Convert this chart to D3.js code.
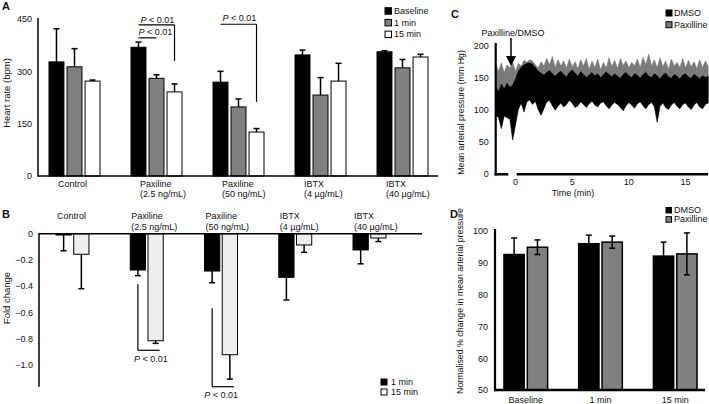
<!DOCTYPE html>
<html><head><meta charset="utf-8">
<script src="https://cdn.jsdelivr.net/npm/d3@7"></script>
<style>
body{margin:0;background:#fff}
svg{display:block}
text{font-family:"Liberation Sans",Arial,sans-serif;fill:#111}
</style>
</head><body>
<svg id="c" width="709" height="404"></svg>
<script>
// ---------- DATA ----------
// Panel A / B categories
const groupKeys   = ["Control","Paxiline 2.5","Paxiline 50","IBTX 4","IBTX 40"];
const groupLine1  = ["Control","Paxiline","Paxiline","IBTX","IBTX"];
const groupLine2  = ["","(2.5 ng/mL)","(50 ng/mL)","(4 \u00b5g/mL)","(40 \u00b5g/mL)"];

// Panel A: heart rate (bpm)
const seriesA      = ["Baseline","1 min","15 min"];
const hrBaseline   = [327, 369, 269, 347, 356];
const hr1min       = [313, 280, 198, 232, 310];
const hr15min      = [272, 241, 126, 272, 341];
const hrErrBaseline= [95, 15, 31, 14, 3];
const hrErr1min    = [52, 10, 23, 50, 24];
const hrErr15min   = [3, 23, 10, 51, 8];
const hrTicks      = [0, 150, 300, 450];

// Panel B: fold change
const seriesB       = ["1 min","15 min"];
const fold1min      = [-0.01, -0.277, -0.285, -0.333, -0.124];
const fold15min     = [-0.157, -0.817, -0.924, -0.086, -0.033];
const foldErr1min   = [0.12, 0.043, 0.089, 0.173, 0.106];
const foldErr15min  = [0.263, 0.02, 0.186, 0.056, 0.027];
const foldTicks     = [0, -0.2, -0.4, -0.6, -0.8, -1.0];

// Panel C: mean arterial pressure trace (sampled every 0.25 min from -1.7 min)
const traceStart = -1.7, traceStep = 0.25;
const paxMax  = [171,160,173,158,170,165,174,160,172,168,177,174,178,176,170,165,175,168,180,170,
                 183,166,178,168,176,165,179,167,175,164,178,168,180,163,176,166,179,162,174,165,
                 181,167,177,164,180,169,176,165,174,168,179,166,182,170,187,168,178,165,181,167,
                 176,163,179,168,174,166,180,165,177,167,175,164,178,166,176,168];
const paxMin  = [122,120,124,118,122,120,58,90,120,122,124,120,122,121,120,118,122,120,121,119,
                 120,118,122,120,121,119,120,118,122,120,121,119,120,118,122,120,121,119,120,118,
                 122,120,121,119,120,118,122,120,121,119,120,118,122,120,121,119,120,118,122,120,
                 121,119,120,118,122,120,121,119,120,118,122,120,121,119,120,118];
const dmsoMax = [136,128,140,132,141,135,138,148,160,166,170,172,173,171,166,160,157,154,158,161,
                 156,152,157,160,155,151,158,162,157,152,159,155,150,154,158,153,156,150,154,159,
                 155,151,156,152,149,155,158,153,150,156,154,149,155,158,152,150,156,153,148,154,
                 157,151,149,155,152,148,154,156,151,149,155,152,148,153,150,152];
const dmsoMin = [90,88,70,90,87,85,52,76,100,110,96,112,115,108,113,100,91,101,112,114,
                 106,99,105,110,104,108,114,110,103,106,112,108,103,109,113,107,104,110,112,106,
                 101,107,111,108,103,98,106,111,107,102,109,112,106,101,108,111,104,80,105,110,
                 103,100,107,111,105,101,108,110,104,100,107,111,104,101,108,110];
const mapTicks  = [0, 50, 100, 150, 200];
const timeTicks = [0, 5, 10, 15];

// Panel D: normalised % change in MAP
const mapCats    = ["Baseline","1 min","15 min"];
const seriesD    = ["DMSO","Paxilline"];
const mapDMSO    = [92.6, 96.0, 92.1];
const mapDMSOErr = [5.2, 2.7, 4.4];
const mapPax     = [94.9, 96.5, 92.8];
const mapPaxErr  = [2.3, 1.9, 6.6];
const normTicks  = [50, 60, 70, 80, 90, 100];

// ---------- DRAW ----------
const svg = d3.select("#c");
const FS = 9;

function label(g, x, y, txt, opts = {}) {
  const t = g.append("text").attr("x", x).attr("y", y).attr("font-size", opts.size || FS)
    .attr("text-anchor", opts.anchor || "start").text(txt);
  if (opts.bold) t.attr("font-weight", "bold");
  if (opts.rotate) t.attr("transform", `rotate(-90,${x},${y})`);
  return t;
}
function ptext(g, x, y, anchor) {
  const t = g.append("text").attr("x", x).attr("y", y).attr("font-size", FS)
    .attr("text-anchor", anchor || "start");
  t.append("tspan").attr("font-style", "italic").text("P");
  t.append("tspan").text(" < 0.01");
}
function line(g, x1, y1, x2, y2, w) {
  g.append("line").attr("x1", x1).attr("y1", y1).attr("x2", x2).attr("y2", y2)
    .attr("stroke", "#000").attr("stroke-width", w || 1.2);
}
function errBar(g, x, y1, y2, cap) {
  line(g, x, y1, x, y2, 1.5);
  line(g, x - cap / 2, y2, x + cap / 2, y2, 1.5);
}
function styleAxis(sel) {
  sel.select(".domain").remove();
  sel.selectAll("text").attr("font-size", FS).attr("fill", "#111")
     .attr("font-family", '"Liberation Sans",Arial,sans-serif');
}

// ===== Panel A =====
{
  const g = svg.append("g");
  const x = d3.scaleBand().domain(groupKeys).range([38, 439]).paddingInner(0.378).paddingOuter(0.134);
  const xi = d3.scaleBand().domain(seriesA).range([0, x.bandwidth()]).paddingInner(0.17);
  const y = d3.scaleLinear().domain([0, 450]).range([176, 19]);
  const vals = { "Baseline": hrBaseline, "1 min": hr1min, "15 min": hr15min };
  const errs = { "Baseline": hrErrBaseline, "1 min": hrErr1min, "15 min": hrErr15min };
  const fills = { "Baseline": "#000", "1 min": "#808080", "15 min": "#fff" };
  seriesA.forEach(s => {
    groupKeys.forEach((k, i) => {
      const v = vals[s][i], bx = x(k) + xi(s), cx = bx + xi.bandwidth() / 2;
      errBar(g, cx, y(v), y(v + errs[s][i]), 6);
      g.append("rect").attr("x", bx).attr("y", y(v)).attr("width", xi.bandwidth())
        .attr("height", y(0) - y(v)).attr("fill", fills[s]).attr("stroke", "#000").attr("stroke-width", 1);
    });
  });
  g.append("g").attr("transform", "translate(38,0)")
    .call(d3.axisLeft(y).tickValues(hrTicks).tickSize(0).tickPadding(6)).call(styleAxis);
  line(g, 38, 18, 38, 176.5, 1.5);
  line(g, 37.5, 176, 438, 176, 1.5);
  groupKeys.forEach((k, i) => {
    label(g, x(k) + 9, 187, groupLine1[i]);
    if (groupLine2[i]) label(g, x(k) + 9, 197, groupLine2[i]);
  });
  label(g, 10, 93, "Heart rate (bpm)", { anchor: "middle", rotate: true, size: 9.5 });
  label(g, 2, 10, "A", { bold: true, size: 11 });
  // significance
  const c = (k, s) => x(k) + xi(s) + xi.bandwidth() / 2;
  const k2 = "Paxiline 2.5", k3 = "Paxiline 50";
  line(g, c(k2, "Baseline"), y(433), c(k2, "15 min"), y(433));
  line(g, c(k2, "15 min"), y(433), c(k2, "15 min"), y(330));
  ptext(g, c(k2, "Baseline") + 2, 22.5);
  line(g, c(k2, "Baseline"), y(396), c(k2, "1 min"), y(396));
  ptext(g, c(k2, "Baseline"), 35);
  line(g, c(k3, "Baseline"), y(435), c(k3, "15 min"), y(435));
  line(g, c(k3, "15 min"), y(435), c(k3, "15 min"), y(212));
  ptext(g, c(k3, "Baseline") + 2, 20.5);
  // legend
  seriesA.forEach((s, i) => {
    g.append("rect").attr("x", 385).attr("y", 7.7 + i * 11.7).attr("width", 6.5).attr("height", 6.5)
      .attr("fill", fills[s]).attr("stroke", "#000").attr("stroke-width", 1);
    label(g, 394, 14 + i * 11.7, s);
  });
}

// ===== Panel B =====
{
  const g = svg.append("g");
  const x = d3.scaleBand().domain(groupKeys).range([39, 403]).paddingInner(0.556).paddingOuter(0.229);
  const xi = d3.scaleBand().domain(seriesB).range([0, x.bandwidth()]).paddingInner(0.14);
  const y = d3.scaleLinear().domain([0, -1.168]).range([233.7, 386.7]);
  const vals = { "1 min": fold1min, "15 min": fold15min };
  const errs = { "1 min": foldErr1min, "15 min": foldErr15min };
  const fills = { "1 min": "#000", "15 min": "#efefef" };
  seriesB.forEach(s => {
    groupKeys.forEach((k, i) => {
      const v = vals[s][i], bx = x(k) + xi(s), cx = bx + xi.bandwidth() / 2;
      errBar(g, cx, y(v), y(v - errs[s][i]), 6);
      g.append("rect").attr("x", bx).attr("y", y(0)).attr("width", xi.bandwidth())
        .attr("height", y(v) - y(0)).attr("fill", fills[s]).attr("stroke", "#000").attr("stroke-width", 1);
    });
  });
  g.append("g").attr("transform", "translate(39,0)")
    .call(d3.axisLeft(y).tickValues(foldTicks).tickSize(0).tickPadding(6)
      .tickFormat(d => d === 0 ? "0" : d3.format(".1f")(d))).call(styleAxis);
  line(g, 39, 233.7, 39, 386.7, 1.5);
  line(g, 38.5, y(0), 422, y(0), 1.5);
  groupKeys.forEach((k, i) => {
    label(g, x(k) + 1, 219, groupLine1[i]);
    if (groupLine2[i]) label(g, x(k) + 1, 229.5, groupLine2[i]);
  });
  label(g, 10, 298, "Fold change", { anchor: "middle", rotate: true, size: 9.5 });
  label(g, 2, 218, "B", { bold: true, size: 11 });
  const c = (k, s) => x(k) + xi(s) + xi.bandwidth() / 2;
  const k2 = "Paxiline 2.5", k3 = "Paxiline 50";
  line(g, c(k2, "1 min"), y(-0.385), c(k2, "1 min"), y(-0.89));
  line(g, c(k2, "1 min"), y(-0.89), c(k2, "15 min") + 4, y(-0.89));
  ptext(g, c(k2, "1 min") + 13, 361.5, "middle");
  line(g, c(k3, "1 min"), y(-0.57), c(k3, "1 min"), y(-1.168));
  line(g, c(k3, "1 min"), y(-1.168), c(k3, "15 min") + 4, y(-1.168));
  ptext(g, c(k3, "1 min") + 9, 397.5, "middle");
  seriesB.forEach((s, i) => {
    g.append("rect").attr("x", 381).attr("y", 379 + i * 10).attr("width", 6).attr("height", 6)
      .attr("fill", s === "1 min" ? "#000" : "#fff").attr("stroke", "#000").attr("stroke-width", 1);
    label(g, 391, 385 + i * 10, s);
  });
}

// ===== Panel C =====
{
  const g = svg.append("g");
  const x = d3.scaleLinear().domain([-1.7, 17.05]).range([495.7, 708.2]);
  const y = d3.scaleLinear().domain([0, 200]).range([173.3, 45.7]);
  const tAt = i => traceStart + i * traceStep;
  const paxArea = d3.area().x((d, i) => x(tAt(i))).y0((d, i) => y(paxMin[i])).y1(d => y(d));
  const dmsoArea = d3.area().x((d, i) => x(tAt(i))).y0((d, i) => y(dmsoMin[i])).y1(d => y(d));
  g.append("path").attr("d", paxArea(paxMax)).attr("fill", "#7a7a7a").attr("stroke", "#7a7a7a").attr("stroke-width", 0.6);
  g.append("path").attr("d", dmsoArea(dmsoMax)).attr("fill", "#000").attr("stroke", "#000").attr("stroke-width", 0.6);
  g.append("g").attr("transform", "translate(495.7,0)")
    .call(d3.axisLeft(y).tickValues(mapTicks).tickSize(0).tickPadding(7)).call(styleAxis);
  g.append("g").attr("transform", "translate(0,174)")
    .call(d3.axisBottom(x).tickValues(timeTicks).tickSize(0).tickPadding(5)).call(styleAxis);
  line(g, 495.7, 43, 495.7, 175.5, 2.2);
  line(g, 494.6, 174.3, 508.3, 174.3, 2.5);
  line(g, 516.7, 174.3, 708, 174.3, 2.5);
  label(g, 573, 196, "Time (min)", { anchor: "middle" });
  label(g, 464, 112.5, "Mean arterial pressure (mm Hg)", { anchor: "middle", rotate: true, size: 8.8 });
  label(g, 451, 18, "C", { bold: true, size: 11 });
  label(g, 513, 36, "Paxilline/DMSO", { anchor: "middle" });
  line(g, 511, 38, 511, 58, 1.5);
  g.append("path").attr("d", `M506,56 L516,56 L511,66 Z`).attr("fill", "#000");
  seriesD.forEach((s, i) => {
    g.append("rect").attr("x", 666).attr("y", 10 + i * 11.7).attr("width", 6).attr("height", 6)
      .attr("fill", i === 0 ? "#000" : "#7a7a7a").attr("stroke", "#000").attr("stroke-width", 1);
    label(g, 674, 16 + i * 11.7, s);
  });
}

// ===== Panel D =====
{
  const g = svg.append("g");
  const x = d3.scaleBand().domain(mapCats).range([495, 706]).paddingInner(0.416).paddingOuter(0.12);
  const xi = d3.scaleBand().domain(seriesD).range([0, x.bandwidth()]).paddingInner(0.13);
  const y = d3.scaleLinear().domain([50, 100]).range([390, 231]);
  const vals = { "DMSO": mapDMSO, "Paxilline": mapPax };
  const errs = { "DMSO": mapDMSOErr, "Paxilline": mapPaxErr };
  const fills = { "DMSO": "#000", "Paxilline": "#808080" };
  seriesD.forEach(s => {
    mapCats.forEach((k, i) => {
      const v = vals[s][i], bx = x(k) + xi(s), cx = bx + xi.bandwidth() / 2;
      g.append("rect").attr("x", bx).attr("y", y(v)).attr("width", xi.bandwidth())
        .attr("height", y(50) - y(v)).attr("fill", fills[s]).attr("stroke", "#000").attr("stroke-width", 1.5);
      line(g, cx, y(v - errs[s][i]), cx, y(v + errs[s][i]), 1.5);
      line(g, cx - 3, y(v + errs[s][i]), cx + 3, y(v + errs[s][i]), 1.5);
      line(g, cx - 3, y(v - errs[s][i]), cx + 3, y(v - errs[s][i]), 1.5);
    });
  });
  g.append("g").attr("transform", "translate(495,0)")
    .call(d3.axisLeft(y).tickValues(normTicks).tickSize(0).tickPadding(7)).call(styleAxis);
  line(g, 495, 229, 495, 391.2, 2.2);
  line(g, 494, 390, 705, 390, 2.5);
  mapCats.forEach(k => label(g, x(k) + x.bandwidth() / 2, 403, k, { anchor: "middle" }));
  label(g, 463, 301, "Normalised % change in mean arterial pressure", { anchor: "middle", rotate: true, size: 8.8 });
  label(g, 450, 218, "D", { bold: true, size: 11 });
  seriesD.forEach((s, i) => {
    g.append("rect").attr("x", 666).attr("y", 207.5 + i * 9.2).attr("width", 5.5).attr("height", 5.5)
      .attr("fill", fills[s]).attr("stroke", "#000").attr("stroke-width", 1);
    label(g, 674, 213 + i * 9.2, s);
  });
}
</script>
</body></html>
